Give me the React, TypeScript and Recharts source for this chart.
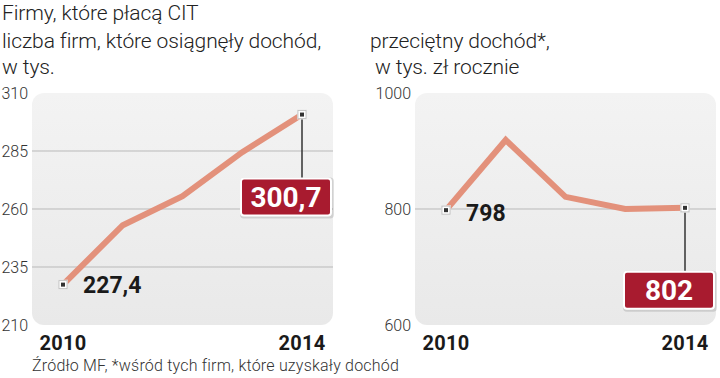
import React from 'react';
import { LineChart, Line, XAxis, YAxis, ReferenceLine } from 'recharts';

const years = ['2010', '2011', '2012', '2013', '2014'];
const firmsCount = [227.4, 253, 265.5, 284.5, 300.7];
const avgIncome = [798, 919, 821, 800, 802];
const firmsLabels = ['227,4', '300,7'];
const incomeLabels = ['798', '802'];
const firmsTicks = [210, 235, 260, 285, 310];
const incomeTicks = [600, 800, 1000];
const firmsGrid = [235, 260, 285];
const incomeGrid = [800];
const shownYears = ['2010', '2014'];

const FONT = 'Roboto, "Liberation Sans", Arial, sans-serif';
const LINE_COLOR = '#E3917B';
const BOX_COLOR = '#A81B2F';

const firmsData = years.map((y, i) => ({ year: y, v: firmsCount[i] }));
const incomeData = years.map((y, i) => ({ year: y, v: avgIncome[i] }));

const YTick = (props: any) => {
  const { x, y, payload } = props;
  return (
    <text x={x} y={y + 6} textAnchor="end" fontFamily={FONT} fontSize={16} fontWeight={300} fill="#333">
      {payload.value}
    </text>
  );
};

const XTick = (props: any) => {
  const { x, y, payload } = props;
  if (!shownYears.includes(payload.value)) return <g />;
  return (
    <text x={x} y={y + 17} textAnchor="middle" fontFamily={FONT} fontSize={20} fontWeight={700} fill="#1a1a1a" letterSpacing={0.3}>
      {payload.value}
    </text>
  );
};

const Dot = (props: any) => {
  const { cx, cy, index } = props;
  if (index !== 0 && index !== years.length - 1) return <g key={`d${index}`} />;
  return (
    <g key={`d${index}`}>
      <rect x={cx - 5} y={cy - 5} width={10} height={10} fill="#e6e6e6" opacity={0.8} />
      <rect x={cx - 4} y={cy - 4} width={8} height={8} fill="#ffffff" stroke="#bdbdbd" strokeWidth={0.8} />
      <rect x={cx - 2} y={cy - 2} width={4} height={4} fill="#333" />
    </g>
  );
};

const makeLabel = (labels: string[], firstDy: number) => (props: any) => {
  const { x, y, index } = props;
  if (index === 0) {
    return (
      <text key="l0" x={x + 20} y={y + firstDy} fontFamily={FONT} fontSize={23} fontWeight={700} fill="#1a1a1a">
        {labels[0]}
      </text>
    );
  }
  if (index === years.length - 1) {
    const top = y + 64;
    const left = x - 61;
    return (
      <g key="l1">
        <line x1={x} y1={y + 5} x2={x} y2={top} stroke="#333" strokeWidth={1.5} />
        <rect x={left - 1} y={top - 1} width={94} height={41} rx={4} fill="#000" opacity={0.12} />
        <rect x={left} y={top} width={90} height={37} rx={3} fill={BOX_COLOR} stroke="#fff" strokeWidth={2} />
        <text x={left + 45} y={top + 28} textAnchor="middle" fontFamily={FONT} fontSize={28} fontWeight={700} fill="#fff">
          {labels[1]}
        </text>
      </g>
    );
  }
  return <g key={`l${index}`} />;
};

const Panel = (p: {
  left: number;
  data: any[];
  domain: [number, number];
  ticks: number[];
  grid: number[];
  yWidth: number;
  labels: string[];
  firstDy: number;
}) => {
  const plotLeft = p.left + p.yWidth;
  const plotRight = p.left + 360 - (p.yWidth === 32 ? 27 : 4);
  return (
    <>
      <div
        style={{
          position: 'absolute',
          left: plotLeft,
          top: 93,
          width: plotRight - plotLeft,
          height: 232,
          borderRadius: 12,
          background: 'linear-gradient(180deg, #f3f3f3 0%, #e9e9e9 100%)',
        }}
      />
      <div style={{ position: 'absolute', left: p.left, top: 0 }}>
        <LineChart
          width={360}
          height={378}
          data={p.data}
          margin={{ top: 93, right: p.yWidth === 32 ? 27 : 4, bottom: 23, left: 0 }}
        >
          {p.grid.map((g) => (
            <ReferenceLine key={g} y={g} stroke="#b9b9b9" strokeWidth={1} />
          ))}
          <XAxis
            dataKey="year"
            axisLine={false}
            tickLine={false}
            height={30}
            interval={0}
            padding={{ left: 31, right: 31 }}
            tick={<XTick />}
          />
          <YAxis
            domain={p.domain}
            ticks={p.ticks}
            width={p.yWidth}
            axisLine={false}
            tickLine={false}
            tickSize={0}
            tickMargin={4}
            tick={<YTick />}
            interval={0}
          />
          <Line
            dataKey="v"
            stroke={LINE_COLOR}
            strokeWidth={6}
            dot={Dot}
            activeDot={false}
            isAnimationActive={false}
            label={makeLabel(p.labels, p.firstDy)}
          />
        </LineChart>
      </div>
    </>
  );
};

export default function App() {
  const titleStyle = { fontFamily: FONT, fontSize: 21, fontWeight: 300, fill: '#222' } as any;
  return (
    <div style={{ position: 'absolute', left: 0, top: 0, width: 720, height: 378, background: '#fff', overflow: 'hidden' }}>
      <Panel left={0} data={firmsData} domain={[210, 310]} ticks={firmsTicks} grid={firmsGrid} yWidth={32} labels={firmsLabels} firstDy={8} />
      <Panel left={360} data={incomeData} domain={[600, 1000]} ticks={incomeTicks} grid={incomeGrid} yWidth={55} labels={incomeLabels} firstDy={11} />
      <svg width={720} height={378} style={{ position: 'absolute', left: 0, top: 0, pointerEvents: 'none' }}>
        <text x={2} y={20} {...titleStyle} letterSpacing={-0.1}>Firmy, które płacą CIT</text>
        <text x={2} y={48} {...titleStyle} letterSpacing={-0.1}>liczba firm, które osiągnęły dochód,</text>
        <text x={2} y={74} {...titleStyle} letterSpacing={-0.1}>w tys.</text>
        <text x={370} y={48} {...titleStyle} letterSpacing={-0.1}>przeciętny dochód*,</text>
        <text x={375} y={74} {...titleStyle} letterSpacing={-0.1}>w tys. zł rocznie</text>
        <text x={32} y={371} fontFamily={FONT} fontSize={16} fontWeight={300} fill="#333" letterSpacing={0.2}>
          Źródło MF, *wśród tych firm, które uzyskały dochód
        </text>
      </svg>
    </div>
  );
}
